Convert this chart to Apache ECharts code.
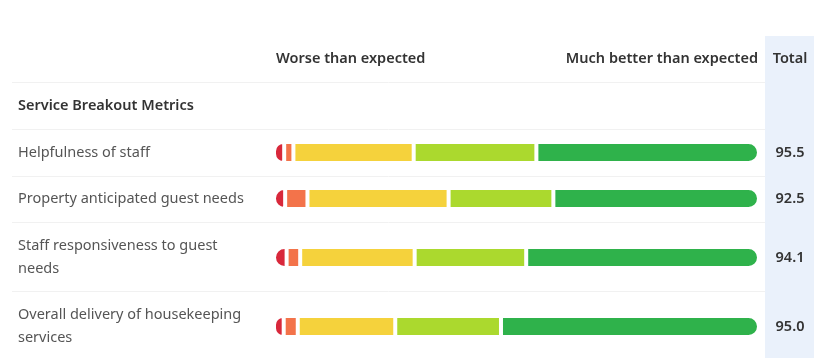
<!DOCTYPE html>
<html>
<head>
<meta charset="utf-8">
<script src="https://cdn.jsdelivr.net/npm/echarts@6/dist/echarts.min.js"></script>
<style>
html,body{margin:0;padding:0;background:#fff;}
#chart{width:831px;height:358px;}
</style>
</head>
<body>
<div id="chart"></div>
<script>
// ---- data ----
const rowLabels = [
  'Helpfulness of staff',
  'Property anticipated guest needs',
  'Staff responsiveness to guest\nneeds',
  'Overall delivery of housekeeping\nservices'
];
const segmentNames = ['Much worse than expected', 'Worse than expected', 'As expected', 'Better than expected', 'Much better than expected'];
const muchWorse   = [2.1, 2.3, 2.6, 2.0];
const worse       = [1.9, 4.6, 2.8, 2.9];
const asExpected  = [24.8, 29.1, 23.6, 20.1];
const better      = [25.3, 21.6, 23.0, 21.8];
const muchBetter  = [45.9, 42.4, 48.0, 53.2];
const totals = ['95.5', '92.5', '94.1', '95.0'];
const sectionTitle = 'Service Breakout Metrics';
const headerLeft = 'Worse than expected';
const headerRight = 'Much better than expected';
const headerTotal = 'Total';

// ---- styling ----
const segValues = [muchWorse, worse, asExpected, better, muchBetter];
const colors = ['#d8283b', '#f3734a', '#f5d23c', '#abd92e', '#2fb24b'];
const rowCenters = [152.5, 198.5, 257.5, 326.5];
const barH = 21;
const FONT = '"Noto Sans", sans-serif';
const FS = 14.5;

const grids = [], xAxes = [], yAxes = [], series = [];
rowCenters.forEach((cy, i) => {
  grids.push({left: 274, right: 72, top: cy - 15, height: 30});
  xAxes.push({gridIndex: i, type: 'value', min: 0, max: 100, show: false});
  yAxes.push({
    gridIndex: i, type: 'category', data: [rowLabels[i]],
    axisLine: {show: false}, axisTick: {show: false}, splitLine: {show: false},
    axisLabel: {align: 'left', margin: 256, color: '#555', fontSize: FS, fontFamily: FONT, lineHeight: 23}
  });
  yAxes.push({
    gridIndex: i, type: 'category', position: 'right', data: [totals[i]],
    axisLine: {show: false}, axisTick: {show: false}, splitLine: {show: false},
    axisLabel: {align: 'center', margin: 31, color: '#333', fontSize: FS, fontWeight: 600, fontFamily: FONT}
  });
  segValues.forEach((arr, s) => {
    let radius = 0;
    if (s === 0) radius = [11, 0, 0, 11];
    if (s === segValues.length - 1) radius = [0, 11, 11, 0];
    series.push({
      type: 'bar', name: segmentNames[s], stack: 'row' + i,
      xAxisIndex: i, yAxisIndex: i * 2,
      data: [arr[i]], barWidth: barH, silent: true,
      itemStyle: {color: colors[s], borderColor: '#fff', borderWidth: 2, borderRadius: radius}
    });
  });
});

const sepYs = [82, 129, 176, 222, 291];
const graphic = [
  {type: 'rect', shape: {x: 765, y: 36, width: 49, height: 330}, style: {fill: '#eaf1fb'}, z: -10},
  ...sepYs.map(y => ({type: 'line', shape: {x1: 12, y1: y + 0.5, x2: 765, y2: y + 0.5}, style: {stroke: '#f1f1f1', lineWidth: 1}, z: -5})),
  {type: 'text', x: 276, y: 59, style: {text: headerLeft, fill: '#333', font: '600 ' + FS + 'px ' + FONT, textVerticalAlign: 'middle'}},
  {type: 'text', x: 758, y: 59, style: {text: headerRight, fill: '#333', font: '600 ' + FS + 'px ' + FONT, textAlign: 'right', textVerticalAlign: 'middle'}},
  {type: 'text', x: 790, y: 59, style: {text: headerTotal, fill: '#333', font: '600 ' + FS + 'px ' + FONT, textAlign: 'center', textVerticalAlign: 'middle'}},
  {type: 'text', x: 18, y: 106, style: {text: sectionTitle, fill: '#333', font: '600 ' + FS + 'px ' + FONT, textVerticalAlign: 'middle'}}
];

const chart = echarts.init(document.getElementById('chart'), null, {renderer: 'canvas'});
chart.setOption({
  animation: false,
  grid: grids, xAxis: xAxes, yAxis: yAxes, series: series, graphic: graphic
});
</script>
</body>
</html>
